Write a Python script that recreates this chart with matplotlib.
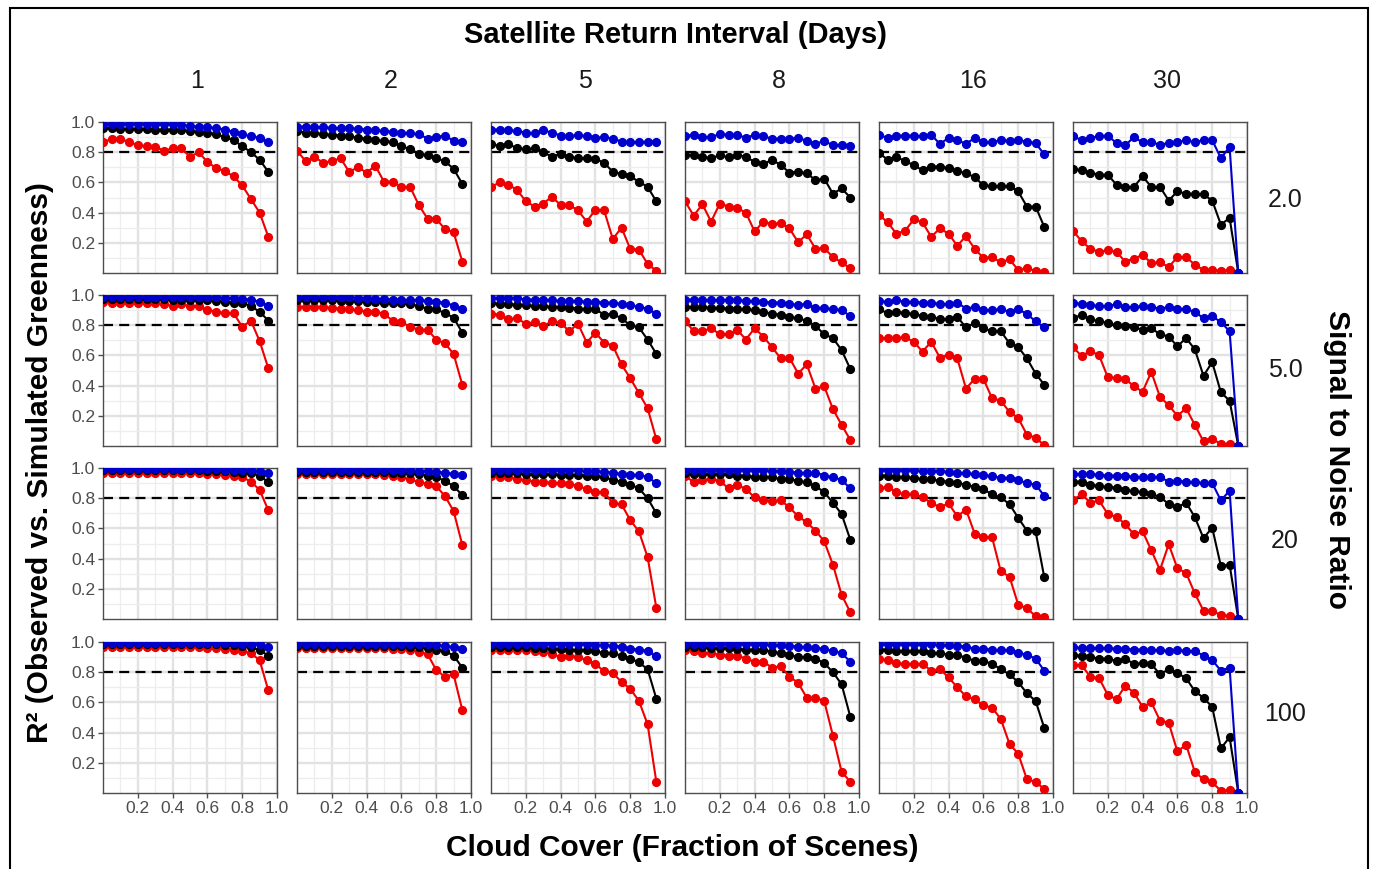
"""Recreates the cloud-cover / return-interval R² facet grid."""

import matplotlib

matplotlib.use("Agg")
import matplotlib.pyplot as plt
from matplotlib.patches import Rectangle

plt.rcParams["font.family"] = ["Liberation Sans", "DejaVu Sans"]

# --- data -----------------------------------------------------------------
cloud_cover = [0.00, 0.05, 0.10, 0.15, 0.20, 0.25, 0.30, 0.35, 0.40, 0.45,
               0.50, 0.55, 0.60, 0.65, 0.70, 0.75, 0.80, 0.85, 0.90, 0.95]
return_days = ["1", "2", "5", "8", "16", "30"]
snr_labels = ["2.0", "5.0", "20", "100"]

# one list per return interval (1, 2, 5, 8, 16, 30 days)
snr2_blue = [
    [0.985] * 9 + [0.98, 0.975, 0.97, 0.965, 0.96, 0.95, 0.935, 0.92, 0.905, 0.895, 0.87],
    [0.97, 0.97, 0.965, 0.965, 0.96, 0.96, 0.96, 0.955, 0.95, 0.945, 0.94, 0.935, 0.93, 0.925, 0.92, 0.89, 0.90, 0.91, 0.875, 0.87],
    [0.95, 0.95, 0.945, 0.94, 0.93, 0.925, 0.945, 0.93, 0.91, 0.905, 0.915, 0.905, 0.895, 0.90, 0.89, 0.87, 0.865, 0.865, 0.87, 0.87],
    [0.91, 0.915, 0.90, 0.90, 0.92, 0.915, 0.915, 0.895, 0.915, 0.905, 0.89, 0.89, 0.89, 0.895, 0.875, 0.855, 0.875, 0.845, 0.85, 0.84],
    [0.915, 0.895, 0.91, 0.91, 0.91, 0.905, 0.915, 0.855, 0.895, 0.88, 0.855, 0.895, 0.865, 0.865, 0.88, 0.875, 0.88, 0.87, 0.86, 0.785],
    [0.905, 0.88, 0.895, 0.905, 0.91, 0.86, 0.845, 0.90, 0.865, 0.865, 0.85, 0.86, 0.865, 0.88, 0.865, 0.88, 0.88, 0.76, 0.835, 0.0],
]
snr2_black = [
    [0.96, 0.96, 0.955, 0.955, 0.955, 0.955, 0.95, 0.95, 0.95, 0.945, 0.94, 0.935, 0.93, 0.92, 0.90, 0.88, 0.84, 0.80, 0.75, 0.67],
    [0.94, 0.93, 0.925, 0.92, 0.915, 0.91, 0.905, 0.895, 0.89, 0.88, 0.875, 0.865, 0.84, 0.82, 0.79, 0.78, 0.76, 0.74, 0.69, 0.59],
    [0.855, 0.84, 0.855, 0.825, 0.82, 0.825, 0.80, 0.77, 0.79, 0.77, 0.76, 0.76, 0.755, 0.73, 0.67, 0.655, 0.64, 0.605, 0.57, 0.475],
    [0.78, 0.78, 0.77, 0.76, 0.78, 0.765, 0.78, 0.77, 0.735, 0.72, 0.75, 0.715, 0.665, 0.67, 0.66, 0.615, 0.625, 0.525, 0.56, 0.50],
    [0.795, 0.75, 0.77, 0.74, 0.715, 0.68, 0.705, 0.705, 0.695, 0.675, 0.66, 0.635, 0.58, 0.575, 0.575, 0.575, 0.54, 0.44, 0.44, 0.305],
    [0.69, 0.68, 0.665, 0.65, 0.65, 0.585, 0.57, 0.57, 0.64, 0.57, 0.57, 0.48, 0.54, 0.525, 0.525, 0.52, 0.48, 0.32, 0.365, 0.0],
]
snr2_red = [
    [0.87, 0.885, 0.885, 0.87, 0.845, 0.84, 0.835, 0.81, 0.825, 0.825, 0.77, 0.80, 0.735, 0.695, 0.675, 0.64, 0.58, 0.49, 0.40, 0.24],
    [0.81, 0.74, 0.77, 0.73, 0.74, 0.76, 0.67, 0.70, 0.665, 0.71, 0.605, 0.605, 0.57, 0.57, 0.45, 0.36, 0.36, 0.29, 0.27, 0.075],
    [0.57, 0.60, 0.585, 0.55, 0.475, 0.44, 0.46, 0.505, 0.45, 0.45, 0.415, 0.34, 0.42, 0.415, 0.225, 0.30, 0.16, 0.155, 0.06, 0.015],
    [0.475, 0.38, 0.455, 0.34, 0.46, 0.44, 0.43, 0.40, 0.275, 0.34, 0.325, 0.33, 0.295, 0.205, 0.255, 0.16, 0.165, 0.105, 0.07, 0.03],
    [0.385, 0.335, 0.26, 0.28, 0.355, 0.335, 0.24, 0.295, 0.26, 0.18, 0.245, 0.16, 0.10, 0.105, 0.07, 0.09, 0.02, 0.03, 0.015, 0.005],
    [0.28, 0.21, 0.16, 0.14, 0.15, 0.14, 0.075, 0.095, 0.12, 0.065, 0.07, 0.04, 0.105, 0.105, 0.055, 0.02, 0.02, 0.015, 0.02, 0.0],
]

snr5_blue = [
    [0.99] * 11 + [0.985, 0.985, 0.985, 0.98, 0.98, 0.975, 0.97, 0.955, 0.93],
    [0.985] * 7 + [0.98, 0.98, 0.975, 0.975, 0.97, 0.97, 0.965, 0.965, 0.96, 0.955, 0.95, 0.93, 0.905],
    [0.98, 0.98, 0.98, 0.98, 0.97, 0.97, 0.97, 0.965, 0.96, 0.96, 0.96, 0.955, 0.955, 0.95, 0.95, 0.94, 0.935, 0.92, 0.91, 0.875],
    [0.97, 0.97, 0.965, 0.965, 0.965, 0.965, 0.97, 0.96, 0.96, 0.955, 0.95, 0.95, 0.94, 0.935, 0.94, 0.915, 0.915, 0.905, 0.90, 0.86],
    [0.96, 0.955, 0.965, 0.955, 0.955, 0.95, 0.95, 0.94, 0.94, 0.95, 0.91, 0.92, 0.90, 0.90, 0.905, 0.89, 0.905, 0.875, 0.825, 0.785],
    [0.95, 0.94, 0.935, 0.925, 0.925, 0.94, 0.92, 0.92, 0.925, 0.92, 0.91, 0.92, 0.91, 0.905, 0.89, 0.845, 0.86, 0.82, 0.76, 0.0],
]
snr5_black = [
    [0.975] * 8 + [0.97, 0.97, 0.97, 0.97, 0.965, 0.96, 0.955, 0.95, 0.95, 0.925, 0.89, 0.83],
    [0.965, 0.965, 0.965, 0.965, 0.965, 0.96, 0.96, 0.96, 0.955, 0.955, 0.95, 0.95, 0.945, 0.94, 0.925, 0.91, 0.905, 0.88, 0.85, 0.75],
    [0.95, 0.94, 0.94, 0.935, 0.935, 0.925, 0.925, 0.92, 0.92, 0.915, 0.91, 0.905, 0.905, 0.87, 0.875, 0.845, 0.80, 0.785, 0.705, 0.61],
    [0.92, 0.92, 0.92, 0.915, 0.915, 0.91, 0.91, 0.905, 0.90, 0.89, 0.875, 0.87, 0.855, 0.845, 0.83, 0.795, 0.74, 0.715, 0.635, 0.51],
    [0.905, 0.88, 0.89, 0.88, 0.875, 0.86, 0.855, 0.84, 0.84, 0.855, 0.785, 0.815, 0.78, 0.76, 0.76, 0.68, 0.655, 0.58, 0.48, 0.405],
    [0.85, 0.865, 0.84, 0.825, 0.815, 0.80, 0.795, 0.785, 0.77, 0.78, 0.74, 0.725, 0.66, 0.715, 0.64, 0.465, 0.555, 0.355, 0.30, 0.0],
]
snr5_red = [
    [0.955, 0.95, 0.95, 0.95, 0.95, 0.945, 0.945, 0.94, 0.925, 0.94, 0.925, 0.925, 0.90, 0.89, 0.88, 0.88, 0.79, 0.83, 0.695, 0.515],
    [0.92, 0.92, 0.92, 0.92, 0.915, 0.91, 0.905, 0.90, 0.89, 0.89, 0.875, 0.83, 0.82, 0.79, 0.77, 0.77, 0.705, 0.68, 0.61, 0.405],
    [0.875, 0.87, 0.84, 0.845, 0.81, 0.82, 0.795, 0.825, 0.815, 0.76, 0.81, 0.685, 0.75, 0.685, 0.665, 0.54, 0.45, 0.35, 0.25, 0.045],
    [0.83, 0.76, 0.76, 0.78, 0.74, 0.74, 0.77, 0.705, 0.78, 0.725, 0.655, 0.58, 0.585, 0.48, 0.54, 0.38, 0.395, 0.245, 0.14, 0.04],
    [0.715, 0.715, 0.715, 0.72, 0.69, 0.625, 0.69, 0.585, 0.605, 0.58, 0.38, 0.445, 0.445, 0.315, 0.30, 0.225, 0.185, 0.075, 0.055, 0.005],
    [0.655, 0.595, 0.63, 0.60, 0.455, 0.45, 0.445, 0.395, 0.36, 0.49, 0.325, 0.27, 0.20, 0.25, 0.14, 0.03, 0.045, 0.015, 0.015, 0.0],
]

snr20_blue = [
    [0.995] * 14 + [0.99, 0.99, 0.99, 0.985, 0.98, 0.965],
    [0.99] * 12 + [0.985, 0.985, 0.98, 0.98, 0.975, 0.97, 0.96, 0.955],
    [0.99] * 10 + [0.985, 0.98, 0.98, 0.975, 0.97, 0.96, 0.955, 0.955, 0.94, 0.90],
    [0.99] * 9 + [0.985, 0.98, 0.98, 0.975, 0.97, 0.965, 0.97, 0.95, 0.94, 0.92, 0.865],
    [0.985, 0.985, 0.985, 0.985, 0.985, 0.98, 0.98, 0.98, 0.975, 0.97, 0.965, 0.96, 0.955, 0.945, 0.935, 0.935, 0.92, 0.90, 0.89, 0.815],
    [0.96, 0.96, 0.96, 0.955, 0.95, 0.95, 0.95, 0.94, 0.94, 0.94, 0.94, 0.91, 0.915, 0.91, 0.905, 0.90, 0.90, 0.785, 0.85, 0.0],
]
snr20_black = [
    [0.985] * 12 + [0.98, 0.98, 0.98, 0.975, 0.97, 0.965, 0.95, 0.905],
    [0.975] * 11 + [0.97, 0.97, 0.965, 0.96, 0.95, 0.94, 0.915, 0.88, 0.82],
    [0.965, 0.965, 0.965, 0.965, 0.96, 0.96, 0.96, 0.96, 0.955, 0.955, 0.955, 0.95, 0.945, 0.94, 0.92, 0.91, 0.89, 0.865, 0.80, 0.70],
    [0.97, 0.96, 0.96, 0.96, 0.96, 0.96, 0.95, 0.95, 0.94, 0.94, 0.94, 0.925, 0.925, 0.915, 0.905, 0.88, 0.84, 0.77, 0.695, 0.525],
    [0.95, 0.95, 0.94, 0.94, 0.935, 0.925, 0.925, 0.915, 0.91, 0.90, 0.89, 0.875, 0.86, 0.825, 0.805, 0.76, 0.67, 0.585, 0.58, 0.275],
    [0.91, 0.91, 0.89, 0.88, 0.875, 0.87, 0.855, 0.845, 0.84, 0.825, 0.81, 0.76, 0.74, 0.77, 0.675, 0.535, 0.605, 0.35, 0.36, 0.0],
]
snr20_red = [
    [0.965] * 12 + [0.96, 0.96, 0.955, 0.95, 0.94, 0.91, 0.855, 0.72],
    [0.96] * 10 + [0.955, 0.95, 0.94, 0.925, 0.905, 0.895, 0.88, 0.815, 0.715, 0.49],
    [0.95, 0.94, 0.94, 0.925, 0.92, 0.91, 0.91, 0.90, 0.90, 0.895, 0.88, 0.86, 0.84, 0.84, 0.765, 0.76, 0.655, 0.58, 0.41, 0.075],
    [0.95, 0.905, 0.92, 0.925, 0.915, 0.865, 0.89, 0.86, 0.805, 0.785, 0.78, 0.785, 0.74, 0.68, 0.64, 0.585, 0.515, 0.36, 0.16, 0.045],
    [0.865, 0.875, 0.84, 0.825, 0.83, 0.805, 0.77, 0.74, 0.765, 0.68, 0.725, 0.565, 0.54, 0.54, 0.315, 0.28, 0.095, 0.07, 0.02, 0.015],
    [0.79, 0.825, 0.77, 0.785, 0.695, 0.675, 0.63, 0.56, 0.58, 0.455, 0.325, 0.495, 0.335, 0.305, 0.17, 0.055, 0.055, 0.025, 0.02, 0.0],
]

snr100_blue = [
    [0.995] * 16 + [0.99, 0.99, 0.985, 0.965],
    [0.99] * 14 + [0.985, 0.985, 0.98, 0.975, 0.965, 0.955],
    [0.99] * 9 + [0.985, 0.985, 0.985, 0.98, 0.98, 0.975, 0.97, 0.955, 0.95, 0.94, 0.905],
    [0.99] * 9 + [0.985, 0.98, 0.98, 0.975, 0.97, 0.965, 0.96, 0.955, 0.94, 0.925, 0.87],
    [0.985] * 7 + [0.98, 0.98, 0.975, 0.97, 0.955, 0.955, 0.95, 0.945, 0.945, 0.93, 0.915, 0.89, 0.81],
    [0.965, 0.96, 0.96, 0.96, 0.96, 0.955, 0.955, 0.95, 0.95, 0.945, 0.945, 0.94, 0.945, 0.94, 0.94, 0.91, 0.88, 0.81, 0.83, 0.0],
]
snr100_black = [
    [0.985] * 14 + [0.98, 0.98, 0.975, 0.965, 0.945, 0.91],
    [0.975] * 13 + [0.97, 0.965, 0.96, 0.95, 0.94, 0.91, 0.83],
    [0.965, 0.965, 0.965, 0.965, 0.965, 0.96, 0.96, 0.955, 0.955, 0.95, 0.945, 0.945, 0.94, 0.925, 0.925, 0.91, 0.89, 0.865, 0.82, 0.625],
    [0.97, 0.965, 0.965, 0.96, 0.96, 0.96, 0.955, 0.95, 0.95, 0.95, 0.935, 0.925, 0.915, 0.90, 0.90, 0.89, 0.86, 0.80, 0.72, 0.505],
    [0.95, 0.95, 0.94, 0.94, 0.94, 0.94, 0.925, 0.925, 0.915, 0.915, 0.895, 0.875, 0.875, 0.855, 0.82, 0.785, 0.735, 0.66, 0.61, 0.43],
    [0.915, 0.91, 0.90, 0.89, 0.89, 0.875, 0.89, 0.855, 0.86, 0.855, 0.785, 0.82, 0.795, 0.76, 0.675, 0.63, 0.57, 0.295, 0.37, 0.0],
]
snr100_red = [
    [0.965] * 12 + [0.96, 0.96, 0.955, 0.95, 0.94, 0.925, 0.88, 0.68],
    [0.96] * 11 + [0.955, 0.955, 0.95, 0.935, 0.92, 0.815, 0.77, 0.785, 0.55],
    [0.95, 0.95, 0.95, 0.95, 0.945, 0.94, 0.935, 0.92, 0.90, 0.91, 0.90, 0.88, 0.855, 0.805, 0.795, 0.735, 0.69, 0.61, 0.455, 0.075],
    [0.95, 0.94, 0.925, 0.925, 0.915, 0.91, 0.91, 0.89, 0.87, 0.87, 0.83, 0.84, 0.77, 0.73, 0.63, 0.63, 0.61, 0.38, 0.14, 0.075],
    [0.89, 0.88, 0.86, 0.855, 0.855, 0.855, 0.81, 0.82, 0.765, 0.70, 0.64, 0.62, 0.58, 0.565, 0.49, 0.325, 0.26, 0.09, 0.075, 0.025],
    [0.845, 0.845, 0.77, 0.76, 0.65, 0.62, 0.71, 0.665, 0.57, 0.60, 0.48, 0.465, 0.275, 0.32, 0.14, 0.09, 0.07, 0.015, 0.02, 0.0],
]

threshold = 0.8
tick_vals = [0.2, 0.4, 0.6, 0.8, 1.0]
tick_text = ["0.2", "0.4", "0.6", "0.8", "1.0"]

# --- layout (pixel positions of the panels in a 1376 x 869 canvas) ---------
W, H = 1376, 869
LEFTS = [103, 297, 491, 685, 879, 1073]
TOPS = [122, 295, 468, 642]
PW, PH = 174, 151
ROW_LABEL_Y = [200, 370, 541, 714]

BLUE = "#0000cd"
BLACK = "#000000"
RED = "#ee0000"
GRID = "#e2e2e2"
AXIS_GREY = "#4d4d4d"


def px_rect(left, top, w, h):
    return [left / W, 1 - (top + h) / H, w / W, h / H]


fig = plt.figure(figsize=(W / 100, H / 100), dpi=100)

rows = [
    (snr2_red, snr2_black, snr2_blue),
    (snr5_red, snr5_black, snr5_blue),
    (snr20_red, snr20_black, snr20_blue),
    (snr100_red, snr100_black, snr100_blue),
]

for r, (reds, blacks, blues) in enumerate(rows):
    for c in range(len(return_days)):
        ax = fig.add_axes(px_rect(LEFTS[c], TOPS[r], PW, PH))
        ax.set_xlim(0, 1)
        ax.set_ylim(0, 1)
        ax.set_xticks(tick_vals)
        ax.set_yticks(tick_vals)
        ax.set_xticks([0.1, 0.3, 0.5, 0.7, 0.9], minor=True)
        ax.set_yticks([0.1, 0.3, 0.5, 0.7, 0.9], minor=True)
        ax.grid(which="major", color=GRID, lw=1.7)
        ax.grid(which="minor", color="#ededed", lw=0.9)
        ax.set_axisbelow(True)
        for s in ax.spines.values():
            s.set_color(AXIS_GREY)
            s.set_linewidth(1.0)

        ax.tick_params(which="minor", length=0)
        ax.tick_params(which="major", length=3.5, width=1.0, color=AXIS_GREY,
                       labelsize=12.5, labelcolor=AXIS_GREY, pad=2)
        if c == 0:
            ax.set_yticklabels(tick_text)
        else:
            ax.tick_params(axis="y", length=0, labelleft=False)
        if r == len(rows) - 1:
            ax.set_xticklabels(tick_text)
        else:
            ax.tick_params(axis="x", length=0, labelbottom=False)

        ax.axhline(threshold, color="black", lw=1.6, ls=(0, (4.5, 2.8)), zorder=2)
        for vals, col in ((reds[c], RED), (blacks[c], BLACK), (blues[c], BLUE)):
            ax.plot(cloud_cover, vals, color=col, lw=1.5, marker="o",
                    ms=5.6, zorder=3)

# --- strip-style labels and titles
for c, lab in enumerate(return_days):
    fig.text((LEFTS[c] + PW / 2 + 7) / W, 1 - 81 / H, lab, ha="center",
             va="center", fontsize=18, color="#1a1a1a")
for r, lab in enumerate(snr_labels):
    fig.text(1285 / W, 1 - ROW_LABEL_Y[r] / H, lab, ha="center",
             va="center", fontsize=18, color="#1a1a1a")

fig.text(675 / W, 1 - 35 / H, "Satellite Return Interval (Days)", ha="center",
         va="center", fontsize=21, fontweight="bold")
fig.text(682 / W, 1 - 848 / H, "Cloud Cover (Fraction of Scenes)", ha="center",
         va="center", fontsize=21.5, fontweight="bold")
fig.text(40 / W, 1 - 463 / H, "R² (Observed vs. Simulated Greenness)",
         ha="center", va="center", rotation=90, fontsize=21.5, fontweight="bold")
fig.text(1337 / W, 1 - 460 / H, "Signal to Noise Ratio", ha="center",
         va="center", rotation=270, fontsize=21.5, fontweight="bold")

# outer frame around the whole figure
fig.patches.append(Rectangle((10 / W, -0.01), 1358 / W, 1 - 8 / H + 0.01,
                             transform=fig.transFigure, fill=False,
                             ec="black", lw=1.5))

fig.savefig("out.png", dpi=100, facecolor="white")
